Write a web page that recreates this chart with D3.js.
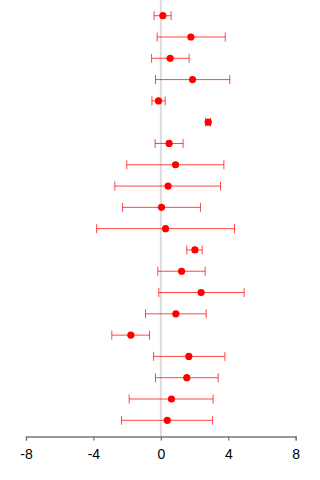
<!DOCTYPE html>
<html>
<head>
<meta charset="utf-8">
<script src="https://cdn.jsdelivr.net/npm/d3@7"></script>
<style>
  html, body { margin: 0; padding: 0; background: #fff; }
  svg { display: block; }
</style>
</head>
<body>
<svg id="chart" width="320" height="480"></svg>
<script>
// Point estimates with lower / upper interval bounds, one row per study (top to bottom)
const rows = ["1","2","3","4","5","6","7","8","9","10","11","12","13","14","15","16","17","18","19","20"];
const estimate = [0.12, 1.78, 0.55, 1.88, -0.14, 2.81, 0.49, 0.87, 0.43, 0.04, 0.28, 2.02, 1.23, 2.39, 0.89, -1.78, 1.66, 1.54, 0.63, 0.38];
const lower    = [-0.40, -0.22, -0.55, -0.32, -0.53, 2.65, -0.34, -2.02, -2.73, -2.27, -3.81, 1.54, -0.18, -0.12, -0.91, -2.91, -0.43, -0.32, -1.88, -2.33];
const upper    = [0.61, 3.82, 1.68, 4.09, 0.26, 2.95, 1.32, 3.74, 3.54, 2.35, 4.37, 2.45, 2.63, 4.94, 2.69, -0.67, 3.80, 3.40, 3.10, 3.07];
const xTicks = [-8, -4, 0, 4, 8];

const svg = d3.select("#chart");

const x = d3.scaleLinear().domain([-8, 8]).range([26, 295.7]);
const y = d3.scalePoint().domain(rows).range([15.7, 420.3]);
const axisY = 436.5;

// reference line at zero
svg.append("line")
  .attr("x1", x(0)).attr("x2", x(0))
  .attr("y1", 0).attr("y2", axisY)
  .attr("stroke", "#dcdcdc").attr("stroke-width", 2);

// x axis
const axis = svg.append("g")
  .attr("transform", `translate(0,${axisY})`)
  .call(d3.axisBottom(x).tickValues(xTicks).tickSize(4).tickPadding(9).tickFormat(d => String(d)));
axis.select(".domain").attr("stroke", "#777").attr("stroke-width", 1.3);
axis.selectAll(".tick line").attr("stroke", "#777").attr("stroke-width", 1.3);
axis.selectAll(".tick text")
  .attr("font-family", "Liberation Sans, Arial, sans-serif")
  .attr("font-size", 14)
  .attr("fill", "#000");

const data = rows.map((r, i) => ({ r, est: estimate[i], lo: lower[i], hi: upper[i] }));
const g = svg.append("g");
const capH = 4.5;
const barColor = "rgba(255,0,0,0.72)";

const row = g.selectAll("g.row").data(data).join("g").attr("class", "row");

row.append("line")
  .attr("x1", d => x(d.lo)).attr("x2", d => x(d.hi))
  .attr("y1", d => y(d.r)).attr("y2", d => y(d.r))
  .attr("stroke", barColor).attr("stroke-width", 1);
row.append("line")
  .attr("x1", d => x(d.lo)).attr("x2", d => x(d.lo))
  .attr("y1", d => y(d.r) - capH).attr("y2", d => y(d.r) + capH)
  .attr("stroke", barColor).attr("stroke-width", 1);
row.append("line")
  .attr("x1", d => x(d.hi)).attr("x2", d => x(d.hi))
  .attr("y1", d => y(d.r) - capH).attr("y2", d => y(d.r) + capH)
  .attr("stroke", barColor).attr("stroke-width", 1);
row.append("circle")
  .attr("cx", d => x(d.est)).attr("cy", d => y(d.r))
  .attr("r", 3.6)
  .attr("fill", "#ff0000");
</script>
</body>
</html>
